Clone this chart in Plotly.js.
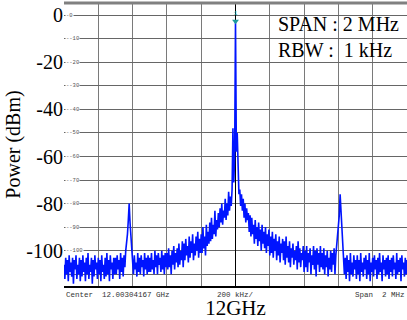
<!DOCTYPE html>
<html>
<head>
<meta charset="utf-8">
<script src="https://cdn.plot.ly/plotly-3.0.1.min.js"></script>
<style>
html,body{margin:0;padding:0;background:#fff;}
#chart{width:407px;height:320px;}
</style>
</head>
<body>
<div id="chart"></div>
<script>
// Frequency offset from centre (MHz): first point and step
const freqStart = -1.0;
const freqStep = 0.005;

// Measured power (dBm), 401 points from -1 MHz to +1 MHz
const powerLevels = [
  // -1.000 .. -0.905
  -106,-112,-103,-110,-104,-113,-102,-109,-105,-111,-103,-114,-104,-108,-102,-112,-106,-110,-103,-113,
  // -0.900 .. -0.805
  -104,-111,-102,-109,-105,-113,-103,-110,-101,-112,-106,-109,-103,-114,-104,-111,-102,-108,-105,-112,
  // -0.800 .. -0.705
  -103,-110,-104,-113,-102,-109,-106,-112,-103,-111,-101,-110,-104,-113,-102,-108,-105,-112,-103,-110,
  // -0.700 .. -0.605 (left sideband)
  -103,-110,-102,-108,-104,-112,-101,-109,-103,-111,-102,-107,-100,-97,-93,-87,-80,-88,-95,-99,
  // -0.600 .. -0.505
  -104,-110,-102,-108,-105,-111,-101,-109,-103,-110,-102,-107,-104,-111,-101,-108,-103,-110,-102,-109,
  // -0.500 .. -0.405
  -103,-109,-101,-108,-104,-110,-100,-107,-102,-110,-101,-106,-103,-109,-100,-108,-102,-110,-101,-107,
  // -0.400 .. -0.305
  -101,-108,-99,-107,-102,-110,-100,-106,-98,-108,-101,-105,-99,-107,-97,-106,-100,-104,-96,-107,
  // -0.300 .. -0.205
  -97,-104,-95,-102,-98,-105,-94,-103,-96,-101,-93,-104,-97,-102,-94,-100,-92,-103,-95,-101,
  // -0.200 .. -0.105
  -93,-101,-90,-99,-94,-102,-89,-98,-92,-97,-88,-96,-86,-95,-89,-93,-83,-94,-87,-91,
  // -0.100 .. -0.005
  -84,-90,-82,-88,-80,-89,-83,-86,-78,-87,-80,-85,-75,-83,-77,-81,-74,-48,-71,-60,
  // 0 (carrier)
  -2.5,
  // 0.005 .. 0.100
  -58,-50,-72,-76,-74,-81,-76,-83,-78,-86,-80,-88,-82,-87,-84,-92,-85,-94,-86,-93,
  // 0.105 .. 0.200
  -89,-97,-87,-95,-90,-98,-88,-96,-91,-100,-89,-97,-92,-99,-90,-101,-93,-98,-91,-102,
  // 0.205 .. 0.300
  -94,-101,-92,-103,-95,-100,-93,-104,-96,-102,-94,-105,-97,-101,-95,-104,-96,-106,-94,-103,
  // 0.305 .. 0.400
  -98,-105,-96,-107,-99,-103,-97,-106,-100,-104,-98,-108,-96,-105,-99,-107,-101,-104,-98,-109,
  // 0.405 .. 0.500
  -100,-107,-98,-109,-101,-105,-99,-110,-102,-106,-98,-108,-100,-111,-99,-106,-101,-109,-98,-107,
  // 0.505 .. 0.600
  -101,-108,-99,-110,-102,-107,-100,-111,-103,-108,-100,-109,-101,-106,-99,-110,-102,-98,-96,-92,
  // 0.605 .. 0.700 (right sideband)
  -85,-76,-83,-91,-99,-105,-110,-103,-112,-102,-109,-104,-113,-101,-110,-105,-111,-102,-108,-104,
  // 0.705 .. 0.800
  -112,-102,-110,-104,-113,-101,-109,-105,-111,-103,-108,-102,-112,-104,-110,-101,-113,-105,-109,-103,
  // 0.805 .. 0.900
  -111,-102,-108,-104,-112,-103,-110,-101,-109,-105,-113,-102,-108,-104,-111,-103,-110,-102,-112,-104,
  // 0.905 .. 1.000
  -109,-103,-111,-102,-108,-105,-112,-101,-110,-104,-109,-103,-113,-102,-108,-105,-111,-103,-110,-104
];

// Peak marker
const markerFreq = [0];
const markerLevel = [-2.5];
const markerLabel = ['1'];

// Axis ticks
const yGridVals = [0,-10,-20,-30,-40,-50,-60,-70,-80,-90,-100,-110];
const yTickText = ['0','','-20','','-40','','-60','','-80','','-100',''];
const screenLabelVals = [0,-10,-20,-30,-40,-50,-60,-70,-80,-90,-100];
const xGridVals = [-0.8,-0.6,-0.4,-0.2,0,0.2,0.4,0.6,0.8];

const serif = 'Liberation Serif';
const mono = 'Liberation Mono';

const traces = [
  {
    type: 'scatter', mode: 'lines',
    x0: freqStart, dx: freqStep, y: powerLevels,
    line: {color: 'rgb(0,20,255)', width: 1.6},
    hoverinfo: 'skip'
  },
  {
    type: 'scatter', mode: 'markers+text',
    x: markerFreq, y: markerLevel, text: markerLabel,
    textposition: 'top center',
    textfont: {family: mono, size: 6, color: '#1a9a9a'},
    marker: {symbol: 'triangle-down', size: 6, color: '#1a9a9a'},
    hoverinfo: 'skip'
  }
];

const annotations = [
  {xref:'paper', yref:'paper', x:0.618, y:0.972, xanchor:'left', yanchor:'top', align:'left', showarrow:false,
   text:'SPAN : 2 MHz<br>RBW :\u00a0 1 kHz', font:{family:serif, size:20, color:'#000'}},
  {xref:'paper', yref:'paper', x:0, y:0, xanchor:'left', yanchor:'top', yshift:-3, showarrow:false,
   text:'Center\u00a0 12.00304167 GHz', font:{family:mono, size:7.5, color:'#333'}},
  {xref:'paper', yref:'paper', x:0.5, y:0, xanchor:'center', yanchor:'top', yshift:-3, showarrow:false,
   text:'200 kHz/', font:{family:mono, size:7.5, color:'#333'}},
  {xref:'paper', yref:'paper', x:1, y:0, xanchor:'right', yanchor:'top', yshift:-3, showarrow:false,
   text:'Span\u00a0 2 MHz', font:{family:mono, size:7.5, color:'#333'}}
];
screenLabelVals.forEach(v => {
  annotations.push({xref:'paper', yref:'y', x:0, y:v, xanchor:'left', yanchor:'middle', xshift:1,
    showarrow:false, text:'-' + v, bgcolor:'#fff', borderpad:0,
    font:{family:mono, size:5.5, color:'#555'}});
});

const layout = {
  width: 407, height: 320,
  margin: {l: 64, r: 0, t: 3, b: 34},
  paper_bgcolor: '#fff', plot_bgcolor: '#fff',
  font: {family: serif, color: '#000'},
  showlegend: false,
  xaxis: {
    range: [-1, 1], tickmode: 'array', tickvals: xGridVals, showticklabels: false, ticks: '',
    showgrid: true, gridcolor: '#7a7a7a', gridwidth: 1,
    zeroline: true, zerolinecolor: '#000', zerolinewidth: 1,
    showline: true, linecolor: '#000', linewidth: 2,
    title: {text: '12GHz', font: {family: serif, size: 21, color: '#000'}, standoff: 14},
    automargin: false
  },
  yaxis: {
    range: [-115, 5.2], tickmode: 'array', tickvals: yGridVals, ticktext: yTickText, ticks: '',
    tickfont: {family: serif, size: 20, color: '#000'},
    showgrid: true, gridcolor: '#666', gridwidth: 1, zeroline: false, showline: false,
    title: {text: 'Power (dBm)', font: {family: serif, size: 20, color: '#000'}, standoff: 0},
    automargin: false
  },
  shapes: [
    {type:'line', xref:'paper', yref:'paper', x0:0, x1:1, y0:1, y1:1, line:{color:'#808080', width:3}}
  ],
  annotations: annotations
};

Plotly.newPlot('chart', traces, layout, {displayModeBar: false, staticPlot: true});
</script>
</body>
</html>
